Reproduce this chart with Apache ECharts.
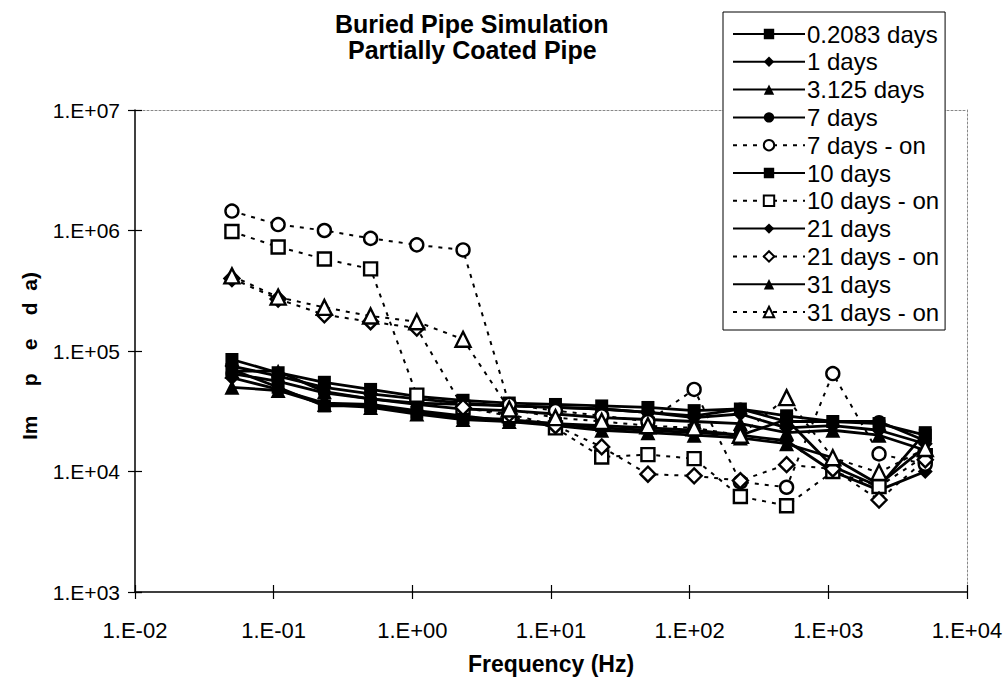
<!DOCTYPE html>
<html><head><meta charset="utf-8">
<script src="https://cdn.jsdelivr.net/npm/echarts@6/dist/echarts.min.js"></script>
<style>html,body{margin:0;padding:0;background:#fff}#c{width:1007px;height:680px}</style>
</head><body><div id="c"></div>
<script>
// Frequencies (Hz)
const frequencies = [0.05, 0.1077, 0.2321, 0.5, 1.077, 2.321, 5, 10.77, 23.21, 50, 107.7, 232.1, 500, 1077, 2321, 5000];
// Impedance values (ohm)
const days0_2083 = [8.5e4, 6.6e4, 5.5e4, 4.8e4, 4.2e4, 3.9e4, 3.7e4, 3.6e4, 3.5e4, 3.4e4, 3.2e4, 3.3e4, 2.9e4, 2.6e4, 2.5e4, 2.0e4];
const days1 = [7.5e4, 6.2e4, 5.0e4, 4.4e4, 4.0e4, 3.7e4, 3.5e4, 3.4e4, 3.3e4, 3.1e4, 2.8e4, 3.0e4, 2.3e4, 2.4e4, 2.2e4, 1.7e4];
const days3_125 = [6.8e4, 6.8e4, 4.6e4, 4.0e4, 3.6e4, 3.3e4, 3.2e4, 3.0e4, 2.8e4, 2.7e4, 2.6e4, 2.5e4, 2.1e4, 2.2e4, 2.0e4, 1.5e4];
const days7 = [6.5e4, 5.6e4, 4.5e4, 4.0e4, 3.7e4, 3.6e4, 3.5e4, 3.4e4, 3.3e4, 3.1e4, 2.9e4, 3.3e4, 2.6e4, 2.6e4, 2.6e4, 1.8e4];
const days7on = [1.45e6, 1.12e6, 1.0e6, 8.6e5, 7.6e5, 6.9e5, 3.6e4, 3.2e4, 2.9e4, 2.6e4, 4.8e4, 8.2e3, 7.4e3, 6.5e4, 1.4e4, 1.15e4];
const days10 = [7.0e4, 5.0e4, 3.5e4, 3.5e4, 3.1e4, 2.8e4, 2.7e4, 2.5e4, 2.4e4, 2.3e4, 2.2e4, 2.0e4, 2.7e4, 1.1e4, 7.5e3, 2.1e4];
const days10on = [9.8e5, 7.3e5, 5.8e5, 4.8e5, 4.3e4, 3.4e4, 2.9e4, 2.3e4, 1.32e4, 1.38e4, 1.28e4, 6.2e3, 5.2e3, 1.0e4, 7.5e3, 1.35e4];
const days21 = [6.0e4, 4.8e4, 3.7e4, 3.6e4, 3.2e4, 2.9e4, 2.6e4, 2.5e4, 2.3e4, 2.2e4, 2.1e4, 2.0e4, 1.8e4, 1.0e4, 7.0e3, 1.0e4];
const days21on = [4.0e5, 2.7e5, 2.0e5, 1.75e5, 1.55e5, 3.4e4, 3.0e4, 2.4e4, 1.6e4, 9.5e3, 9.2e3, 8.4e3, 1.14e4, 1.05e4, 5.8e3, 1.25e4];
const days31 = [5.0e4, 4.7e4, 3.6e4, 3.4e4, 3.0e4, 2.7e4, 2.6e4, 2.4e4, 2.2e4, 2.1e4, 2.0e4, 1.9e4, 1.7e4, 1.3e4, 7.8e3, 1.6e4];
const days31on = [4.2e5, 2.8e5, 2.3e5, 1.95e5, 1.75e5, 1.25e5, 3.3e4, 2.8e4, 2.6e4, 2.4e4, 2.3e4, 2.0e4, 4.1e4, 1.3e4, 9.8e3, 1.55e4];

const seriesNames = ['0.2083 days','1 days','3.125 days','7 days','7 days - on','10 days','10 days - on','21 days','21 days - on','31 days','31 days - on'];
const seriesValues = [days0_2083, days1, days3_125, days7, days7on, days10, days10on, days21, days21on, days31, days31on];
const seriesSymbols = ['rect','diamond','triangle','circle','circle','rect','rect','diamond','diamond','triangle','triangle'];
const seriesOpen = [false,false,false,false,true,false,true,false,true,false,true];

const FONT = "'Liberation Sans', Arial, sans-serif";
function expLabel(v){
  const e = Math.round(Math.log10(v));
  const s = e < 0 ? '-' : '+';
  const a = Math.abs(e);
  return '1.E' + s + (a < 10 ? '0' + a : a);
}
const symSize = {rect: 13, diamond: 15, triangle: 15, circle: 13};

const series = seriesNames.map((name, i) => {
  const open = seriesOpen[i];
  const sym = seriesSymbols[i];
  return {
    name: name,
    type: 'line',
    xAxisIndex: 0, yAxisIndex: 0,
    data: frequencies.map((f, k) => [f, seriesValues[i][k]]),
    symbol: sym,
    symbolSize: symSize[sym],
    showAllSymbol: true,
    animation: false,
    lineStyle: open ? {color: '#000', width: 2, type: [4, 6]} : {color: '#000', width: 2.8, type: 'solid'},
    itemStyle: open ? {color: '#fff', borderColor: '#000', borderWidth: 2.4} : {color: '#000', borderColor: '#000', borderWidth: 0},
    emphasis: {disabled: true},
    z: open ? 3 : 2
  };
});

const chart = echarts.init(document.getElementById('c'), null, {renderer: 'svg'});
const helperAxis = {
  type: 'log', logBase: 10,
  axisLabel: {show: false}, splitLine: {show: false}, axisTick: {show: false}
};
chart.setOption({
  animation: false,
  backgroundColor: '#fff',
  textStyle: {fontFamily: FONT, color: '#000'},
  grid: {left: 135, right: 40, top: 110, bottom: 86, containLabel: false},
  xAxis: [
    {
      type: 'log', logBase: 10, min: 0.01, max: 10000, splitNumber: 6,
      position: 'bottom',
      name: 'Frequency (Hz)', nameLocation: 'middle', nameGap: 60,
      nameTextStyle: {fontFamily: FONT, fontSize: 23, fontWeight: 'bold', color: '#000'},
      axisLine: {show: true, lineStyle: {color: '#000', width: 1.5}},
      axisTick: {show: true, length: 7, lineStyle: {color: '#000', width: 1.2}},
      axisLabel: {formatter: expLabel, fontFamily: FONT, fontSize: 22, color: '#000', margin: 27},
      splitLine: {show: false}, minorTick: {show: false}
    },
    Object.assign({}, helperAxis, {min: 0.01, max: 10000, splitNumber: 6, position: 'top',
      axisLine: {show: true, lineStyle: {color: '#888', width: 1, type: [2, 2]}}}),
    Object.assign({}, helperAxis, {min: 0.01, max: 10000, splitNumber: 6, position: 'bottom',
      axisLine: {show: false},
      axisTick: {show: true, inside: true, length: 7, lineStyle: {color: '#000', width: 1.2}}})
  ],
  yAxis: [
    {
      type: 'log', logBase: 10, min: 1000, max: 10000000, splitNumber: 4,
      position: 'left',
      axisLine: {show: true, lineStyle: {color: '#000', width: 1.5}},
      axisTick: {show: true, length: 7, lineStyle: {color: '#000', width: 1.2}},
      axisLabel: {formatter: expLabel, fontFamily: FONT, fontSize: 21, color: '#000', margin: 15},
      splitLine: {show: false}, minorTick: {show: false}
    },
    Object.assign({}, helperAxis, {min: 1000, max: 10000000, splitNumber: 4, position: 'right',
      axisLine: {show: true, lineStyle: {color: '#888', width: 1, type: [2, 2]}}}),
    Object.assign({}, helperAxis, {min: 1000, max: 10000000, splitNumber: 4, position: 'left',
      axisLine: {show: false},
      axisTick: {show: true, inside: true, length: 7, lineStyle: {color: '#000', width: 1.2}}})
  ],
  legend: {
    show: true,
    orient: 'vertical',
    left: 723, top: 12,
    padding: [10, 6, 6, 9],
    itemGap: 3.8,
    itemWidth: 72, itemHeight: 13,
    backgroundColor: '#fff',
    borderColor: '#000', borderWidth: 1,
    textStyle: {fontFamily: FONT, fontSize: 24, color: '#000', lineHeight: 24, padding: [0,0,0,-3]},
    selectedMode: false,
    data: seriesNames,
    z: 10
  },
  graphic: [
    {type: 'text', z: 10, top: 11, left: 335,
      style: {text: 'Buried Pipe Simulation', font: 'bold 25px ' + FONT, fill: '#000'}},
    {type: 'text', z: 10, top: 37, left: 348,
      style: {text: 'Partially Coated Pipe', font: 'bold 25px ' + FONT, fill: '#000'}},
    {type: 'text', z: 10, left: 19, top: 272, rotation: Math.PI / 2,
      style: {text: 'Im\u00a0\u00a0\u00a0\u00a0\u00a0p\u00a0\u00a0\u00a0\u00a0e\u00a0\u00a0\u00a0\u00a0d\u00a0\u00a0a)', font: 'bold 21px ' + FONT, fill: '#000'}}
  ],
  series: series
});
</script>
</body></html>
